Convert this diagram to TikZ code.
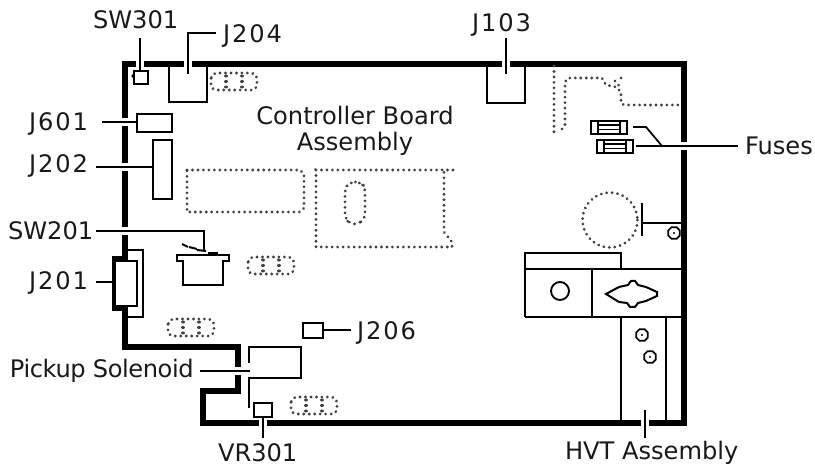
\documentclass[tikz,border=0pt]{standalone}
\usepackage{fontspec}
\setmainfont{DejaVu Sans}
\tikzset{
  px/.style={x=0.75pt,y=-0.75pt},
  framework/.style={line width=4.1pt,line join=miter,line cap=butt},
  thin part/.style={line width=1.5pt,line join=miter},
  thinner part/.style={line width=1.2pt,line join=miter},
  leader/.style={line width=1.3pt,preaction={draw=white,line width=5.5pt,line cap=butt}},
  leader plain/.style={line width=1.3pt},
  dots/.style={line width=2.3pt,line cap=round,dash pattern=on 0.01pt off 4.1pt,draw=black!75},
  lbl/.style={font=\fontsize{18.1pt}{20pt}\selectfont,inner sep=0pt,outer sep=0pt,anchor=base west,text=black!90},
  lblj/.style={lbl,font=\fontsize{18.1pt}{20pt}\selectfont\addfontfeatures{LetterSpace=8}},
  lblp/.style={lbl,font=\fontsize{18.1pt}{20pt}\selectfont\addfontfeatures{LetterSpace=-1.8}},
  boxpart/.style={draw,thin part,fill=white,inner sep=0pt,outer sep=0pt,anchor=north west},
  screw/.style={draw,regular polygon,regular polygon sides=8,line width=1.3pt,minimum size=9.5pt,inner sep=0pt,
    path picture={\fill (path picture bounding box.center) circle (0.9pt);}},
}
\usetikzlibrary{shapes.geometric}
\begin{document}
\begin{tikzpicture}[px]
\useasboundingbox (0,0) rectangle (815,466);
% labels
\node[lbl] (tsw301) at (93,29) {SW301};
\node[lblj] (tj204) at (223,43) {J204};
\node[lblj] (tj103) at (472,32) {J103};
\node[lblj] (tj601) at (29,131) {J601};
\node[lblj] (tj202) at (29,173) {J202};
\node[lbl] (tsw201) at (8,240) {SW201};
\node[lblj] (tj201) at (29,290) {J201};
\node[lblj] (tj206) at (357,340) {J206};
\node[lblp] (tpick) at (10,378) {Pickup Solenoid};
\node[lbl] (tvr) at (218,462) {VR301};
\node[lbl] (thvt) at (565,460) {HVT Assembly};
\node[lbl] (tfuses) at (745,155) {Fuses};
\node[lbl,anchor=base] (tboard) at (355,125) {Controller Board};
\node[lbl,anchor=base] (tassy) at (355,151) {Assembly};
% chassis frame
\draw[framework] (125,64) -- (684,64) -- (684,423) -- (203,423) -- (203,391) -- (238,391) -- (238,347) -- (125,347) -- cycle;
% leaders, halo cutting the frame
\coordinate (a1) at (140,38); \coordinate (a2) at (140,71);
\draw[leader] (a1) -- (a2);
\coordinate (b1) at (216,33); \coordinate (b2) at (188,33); \coordinate (b3) at (188,74);
\draw[leader] (b1) -- (b2) -- (b3);
\coordinate (c1) at (506,38); \coordinate (c2) at (506,74);
\draw[leader] (c1) -- (c2);
\coordinate (d1) at (102,122); \coordinate (d2) at (137,122);
\draw[leader] (d1) -- (d2);
\coordinate (e1) at (96,167); \coordinate (e2) at (153,167);
\draw[leader] (e1) -- (e2);
\coordinate (f1) at (96,231); \coordinate (f2) at (204,231); \coordinate (f3) at (204,251);
\draw[leader] (f1) -- (f2) -- (f3);
\coordinate (g1) at (200,371); \coordinate (g2) at (250,371);
\draw[leader] (g1) -- (g2);
\coordinate (h1) at (263,417); \coordinate (h2) at (263,438);
\draw[leader] (h1) -- (h2);
\coordinate (i1) at (645,410); \coordinate (i2) at (645,438);
\draw[leader] (i1) -- (i2);
\coordinate (j1) at (662,146); \coordinate (j2) at (738,146);
\draw[leader] (j1) -- (j2);
% boxes
\draw[thin part] (169,66) -- (169,102) -- (207,102) -- (207,66);
\draw[thin part] (487,66) -- (487,103) -- (525,103) -- (525,66);
\node[boxpart,minimum width=10.5pt,minimum height=10pt] (sw301) at (134,71) {};
\fill (133,76) circle (1.4pt);
\node[boxpart,minimum width=26pt,minimum height=13.5pt] (j601) at (137,114) {};
\node[boxpart,minimum width=14.3pt,minimum height=44.3pt] (j202) at (153,140) {};
\node[boxpart,minimum width=15pt,minimum height=11pt] (j206) at (303,323.5) {};
\node[boxpart,minimum width=13.5pt,minimum height=10.5pt] (vr301) at (254,403) {};
\coordinate (j206e) at (323,330); \coordinate (j206t) at (351,330);
\draw[leader plain] (j206e) -- (j206t);
% J201
\draw[thin part] (127,250) -- (143,250) -- (143,317) -- (127,317);
\draw[line width=3.2pt,fill=white] (125,258.5) -- (114.5,258.5) -- (114.5,308.5) -- (125,308.5);
\draw[thin part,fill=white] (115,261) rectangle (137,306);
\draw[leader plain] (96,282) -- (113,282);
% switch SW201
\draw[thin part] (183,261) -- (183,285) -- (223,285) -- (223,261) -- (229,261) -- (229,255) -- (177,255) -- (177,261) -- cycle;
\draw[thin part] (182,244) -- (188,247) (189,247) -- (197,249) (197,250) -- (206,251);
\fill (208,252.5) rectangle (218,255.5);
% pickup solenoid
\draw[thin part] (249,363) -- (249,347) -- (301,347) -- (301,378) -- (249,378) -- (249,408);
% dotted parts
\foreach \x/\y in {211/73,248/257,168/319,291/397}{
  \draw[dots,rounded corners=4pt] (\x,\y) rectangle ++(46,17);
  \draw[dots] (\x+15,\y+3) -- ++(0,11);
  \draw[dots] (\x+31,\y+3) -- ++(0,11);
}
\draw[dots] (187,170) -- (300,170) -- (304,174) -- (304,208) -- (300,212) -- (187,212) -- cycle;
\draw[dots] (453,170) -- (316,170) -- (316,247) -- (452,247) -- (452,242) -- (444,232) -- (444,170);
\draw[dots,rounded corners=4pt] (350,182) -- (360,182) -- (365,187) -- (365,219) -- (358,224) -- (350,224) -- (345,218) -- (345,188) -- cycle;
\draw[dots] (554,66) -- (554,132) -- (557,135) (562,129) -- (565,125) -- (565,82) -- (568,78) -- (602,78) -- (606,85) -- (616,87) -- (621,92) -- (621,103) -- (624,105) -- (680,105);
\draw[dots] (615,81) -- (620,87) (621,78)--(620,82);
\draw[dots] (610,220) circle (27.5);
% fuses
\foreach \x/\y/\n in {591/121/fa,597/140/fb}{
  \node[boxpart,minimum width=27pt,minimum height=9.5pt] (\n) at (\x,\y) {};
  \draw[thinner part] (\x+7,\y) -- ++(0,12.5) (\x+29,\y) -- ++(0,12.5);
  \draw[thinner part] (\x+7,\y+4) -- ++(22,0) (\x+7,\y+8.5) -- ++(22,0);
}
\coordinate (k1) at (633,127); \coordinate (k2) at (646,127); \coordinate (k3) at (662,146); \coordinate (k4) at (636,146);
\draw[leader plain] (k1) -- (k2) -- (k3) -- (k4);
% motor mount
\coordinate (m1) at (642,203); \coordinate (m2) at (642,236); \coordinate (m3) at (642,223); \coordinate (m4) at (682,223);
\draw[thin part] (m1) -- (m2) (m3) -- (m4);
% block
\draw[thin part] (682,269) -- (525,269) (525,317) -- (525,253) -- (621,253) -- (621,269);
\draw[thin part] (525,317) -- (682,317) (592,269) -- (592,317);
\node[draw,circle,line width=1.4pt,minimum size=13.5pt,inner sep=0pt] (knob) at (560,291) {};
\draw[thin part] (606,294) -- (619,287) -- (628,285) -- (631,281) -- (635,281) -- (638,285) -- (646,287) -- (657,292) -- (657,296) -- (646,301) -- (638,303) -- (635,307) -- (630,307) -- (627,303) -- (619,302) -- cycle;
% HVT
\draw[thin part] (621,317) -- (621,421) (666,317) -- (666,421);
\node[screw] (s1) at (674,233) {};
\node[screw] (s2) at (642,335) {};
\node[screw] (s3) at (650,357) {};
\end{tikzpicture}
\end{document}
